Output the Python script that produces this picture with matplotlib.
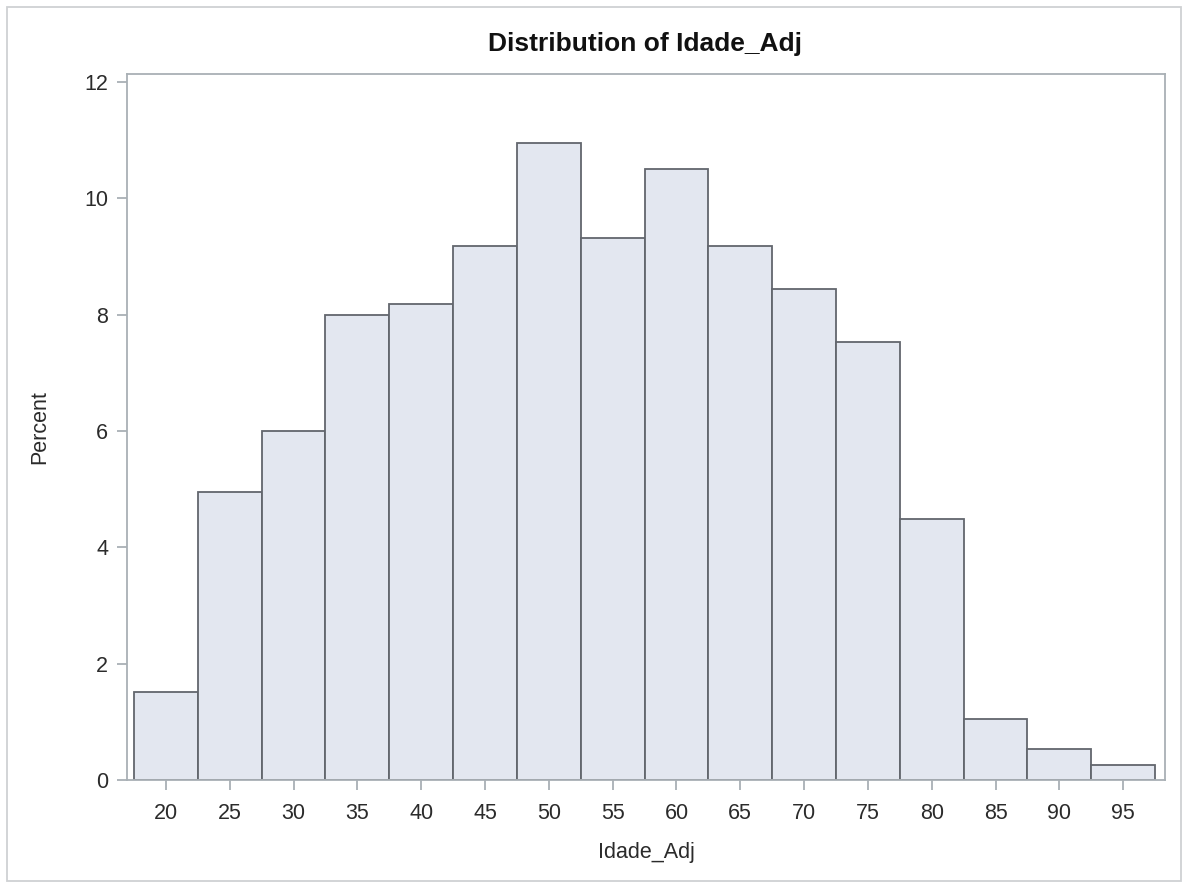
import matplotlib.pyplot as plt
from matplotlib.patches import Rectangle

# Idade_Adj histogram, 5-year bins, percent of observations
bin_mids = [20, 25, 30, 35, 40, 45, 50, 55, 60, 65, 70, 75, 80, 85, 90, 95]
percent = [1.51, 4.96, 6.00, 7.99, 8.19, 9.18, 10.96, 9.32,
           10.50, 9.18, 8.45, 7.54, 4.49, 1.05, 0.53, 0.26]
bin_width = 5
x_ticks = bin_mids
y_ticks = [0, 2, 4, 6, 8, 10, 12]

plt.rcParams['font.family'] = ['Liberation Sans', 'DejaVu Sans']

W, H = 1187, 888
fig = plt.figure(figsize=(W / 100, H / 100), dpi=100)
ax = fig.add_axes([127 / W, 1 - 780 / H, (1165 - 127) / W, (780 - 74) / H])

ax.bar(bin_mids, percent, width=bin_width, color='#e3e7f0',
       edgecolor='#62666d', linewidth=1.3, zorder=2)

ax.set_xlim(16.95, 98.28)
ax.set_ylim(0, 12.14)
ax.set_xticks(x_ticks)
ax.set_yticks(y_ticks)

spine_col = '#a9b0b5'
for s in ax.spines.values():
    s.set_color(spine_col)
    s.set_linewidth(1.3)
ax.tick_params(axis='both', direction='out', length=7.5, width=1.3,
               color=spine_col, labelcolor='#2b2b2b', labelsize=15.5)
ax.tick_params(axis='x', pad=9)
ax.tick_params(axis='y', pad=6)

ax.set_xlabel('Idade_Adj', fontsize=15.5, color='#2b2b2b', va='center')
ax.xaxis.set_label_coords(0.5, (780 - 852) / 706)
ax.set_ylabel('Percent', fontsize=15.5, color='#2b2b2b', va='center')
ax.yaxis.set_label_coords((40 - 127) / 1038, 0.5)

fig.text(645.5 / W, 1 - 44 / H, 'Distribution of Idade_Adj', ha='center',
         va='center', fontsize=19, fontweight='bold', color='#111111')

# thin frame around the whole graph
fig.patches.append(Rectangle((7 / W, 7 / H), (1181 - 7) / W, (881 - 7) / H,
                             transform=fig.transFigure, fill=False,
                             edgecolor='#cfd1d3', linewidth=1.3))

fig.savefig('out.png', dpi=100)
